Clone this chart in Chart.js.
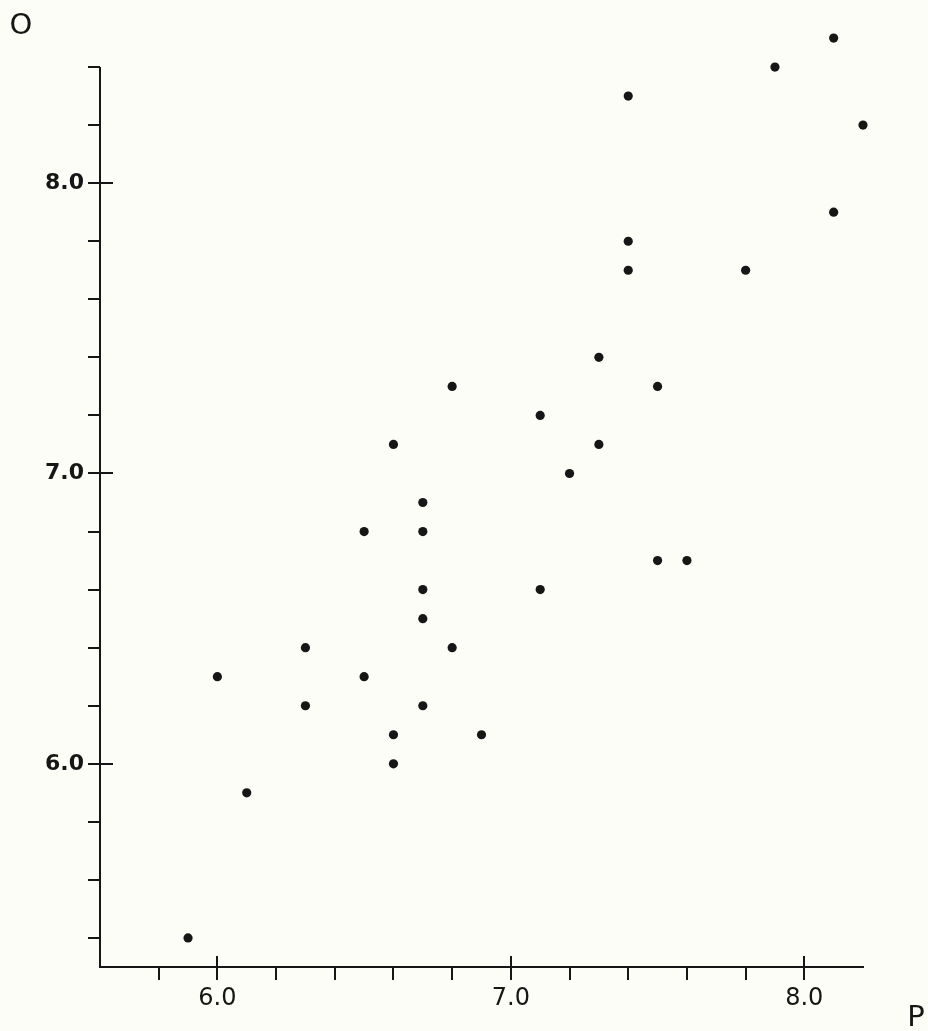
<!DOCTYPE html>
<html>
<head>
<meta charset="utf-8">
<script src="https://cdn.jsdelivr.net/npm/chart.js@4.4.1/dist/chart.umd.min.js"></script>
<style>
  html, body { margin: 0; padding: 0; background: #fdfdf8; }
  #wrap { width: 928px; height: 1031px; position: relative; }
</style>
</head>
<body>
<div id="wrap"><canvas id="c"></canvas></div>
<script>
// ---- data ----
const xValues = [5.9, 6.0, 6.1, 6.3, 6.3, 6.5, 6.5, 6.6, 6.6, 6.6, 6.7, 6.7, 6.7, 6.7, 6.7, 6.8, 6.8,
                 6.9, 7.1, 7.1, 7.2, 7.3, 7.3, 7.4, 7.4, 7.4, 7.5, 7.5, 7.6, 7.8, 7.9, 8.1, 8.2, 8.1];
const yValues = [5.4, 6.3, 5.9, 6.4, 6.2, 6.3, 6.8, 7.1, 6.1, 6.0, 6.9, 6.8, 6.6, 6.5, 6.2, 7.3, 6.4,
                 6.1, 7.2, 6.6, 7.0, 7.4, 7.1, 8.3, 7.8, 7.7, 7.3, 6.7, 6.7, 7.7, 8.4, 8.5, 8.2, 7.9];
const xTickValues = [5.8, 6.0, 6.2, 6.4, 6.6, 6.8, 7.0, 7.2, 7.4, 7.6, 7.8, 8.0];
const yTickValues = [5.4, 5.6, 5.8, 6.0, 6.2, 6.4, 6.6, 6.8, 7.0, 7.2, 7.4, 7.6, 7.8, 8.0, 8.2, 8.4];
const xMajor = [6.0, 7.0, 8.0];
const yMajor = [6.0, 7.0, 8.0];
const yAxisTop = 8.4;
const xTitle = 'P';
const yTitle = 'O';

const INK = '#161616';
const points = xValues.map((x, i) => ({ x: x, y: yValues[i] }));
const isMajor = (list, v) => list.some(m => Math.abs(m - v) < 1e-6);

const axisMarks = {
  id: 'axisMarks',
  afterDraw(chart) {
    const { ctx, chartArea } = chart;
    const sx = chart.scales.x, sy = chart.scales.y;
    ctx.save();
    ctx.strokeStyle = INK;
    ctx.lineWidth = 2;
    ctx.beginPath();
    // y axis line, from the x axis up to the last tick
    const topPx = Math.round(sy.getPixelForValue(yAxisTop));
    ctx.moveTo(chartArea.left, chartArea.bottom + 1);
    ctx.lineTo(chartArea.left, topPx);
    xMajor.forEach(v => {
      const px = Math.round(sx.getPixelForValue(v));
      ctx.moveTo(px, chartArea.bottom);
      ctx.lineTo(px, chartArea.bottom - 11);
    });
    yMajor.forEach(v => {
      const py = Math.round(sy.getPixelForValue(v));
      ctx.moveTo(chartArea.left, py);
      ctx.lineTo(chartArea.left + 13, py);
    });
    ctx.stroke();
    ctx.fillStyle = INK;
    ctx.font = '29px "DejaVu Sans"';
    ctx.textAlign = 'center';
    ctx.textBaseline = 'middle';
    ctx.fillText(yTitle, chartArea.left - 79, topPx - 41);
    ctx.fillText(xTitle, chartArea.right + 53, chartArea.bottom + 51);
    ctx.restore();
  }
};

new Chart(document.getElementById('c'), {
  type: 'scatter',
  data: {
    datasets: [{
      data: points,
      pointRadius: 4.6,
      pointHoverRadius: 4.6,
      pointBackgroundColor: INK,
      pointBorderWidth: 0,
      clip: false
    }]
  },
  options: {
    responsive: true,
    maintainAspectRatio: false,
    animation: false,
    layout: { padding: { top: 9, right: 65, left: 0, bottom: 0 } },
    plugins: { legend: { display: false }, tooltip: { enabled: false } },
    scales: {
      x: {
        type: 'linear',
        min: 5.6,
        max: 8.2,
        afterBuildTicks: s => { s.ticks = xTickValues.map(v => ({ value: v })); },
        afterFit: s => { s.height = 64; s.paddingLeft = 0; s.paddingRight = 0; },
        ticks: {
          autoSkip: false,
          maxRotation: 0,
          padding: 4,
          color: INK,
          font: { family: 'DejaVu Sans', size: 24 },
          callback: v => isMajor(xMajor, v) ? v.toFixed(1) : ''
        },
        grid: { drawOnChartArea: false, tickLength: 13, color: INK, lineWidth: 2 },
        border: { color: INK, width: 2 }
      },
      y: {
        type: 'linear',
        min: 5.3,
        max: 8.6,
        afterBuildTicks: s => { s.ticks = yTickValues.map(v => ({ value: v })); },
        afterFit: s => { s.width = 100; s.paddingTop = 0; s.paddingBottom = 0; },
        ticks: {
          autoSkip: false,
          padding: 4,
          color: INK,
          font: { family: 'DejaVu Sans', size: 22, weight: 'bold' },
          callback: v => isMajor(yMajor, v) ? v.toFixed(1) : ''
        },
        grid: { drawOnChartArea: false, tickLength: 12, color: INK, lineWidth: 2 },
        border: { display: false }
      }
    }
  },
  plugins: [axisMarks]
});
</script>
</body>
</html>
